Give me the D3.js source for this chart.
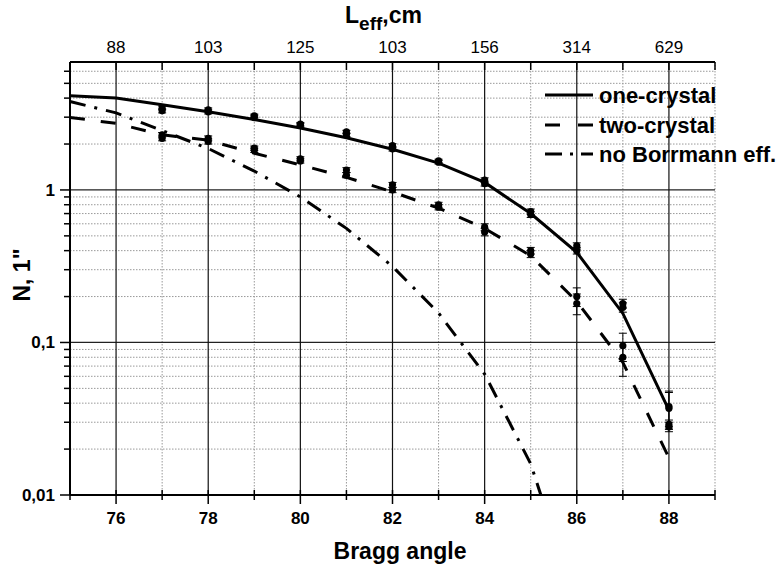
<!DOCTYPE html>
<html>
<head>
<meta charset="utf-8">
<script src="https://cdn.jsdelivr.net/npm/d3@7"></script>
<style>
  body { margin: 0; background: #fff; }
  text { font-family: "Liberation Sans", Arial, sans-serif; fill: #000; }
</style>
</head>
<body>
<div id="chart"></div>
<script>
// Curves (model)
const curveAngles = [75, 76, 77, 78, 79, 80, 81, 82, 83, 84, 85, 86, 87, 88];
const oneCrystalCurve = [4.15, 4.0, 3.62, 3.26, 2.9, 2.55, 2.2, 1.85, 1.5, 1.12, 0.7, 0.39, 0.155, 0.036];
const twoCrystalCurve = [2.99, 2.73, 2.3, 2.12, 1.74, 1.46, 1.21, 0.97, 0.76, 0.56, 0.37, 0.186, 0.074, 0.0175];
const noBorrmannAngles = [75, 76, 77, 78, 79, 80, 81, 82, 83, 84, 85, 85.22];
const noBorrmannCurve = [3.8, 3.2, 2.45, 1.87, 1.33, 0.9, 0.56, 0.315, 0.156, 0.062, 0.016, 0.01];

// Measured points (two runs per angle) and error half-widths
const measAngles = [77, 78, 79, 80, 81, 82, 83, 84, 85, 86, 87, 88];
const oneCrystalA = [3.3, 3.25, 2.98, 2.65, 2.3, 1.86, 1.52, 1.1, 0.69, 0.4, 0.17, 0.037];
const oneCrystalB = [3.45, 3.35, 3.06, 2.7, 2.4, 1.95, 1.55, 1.16, 0.72, 0.43, 0.18, 0.038];
const oneCrystalErr = [0.1, 0.1, 0.08, 0.07, 0.06, 0.06, 0.04, 0.04, 0.03, 0.02, 0.012, 0.01];
const twoCrystalA = [2.18, 2.08, 1.82, 1.55, 1.25, 1.0, 0.77, 0.53, 0.38, 0.18, 0.08, 0.028];
const twoCrystalB = [2.3, 2.18, 1.88, 1.6, 1.35, 1.08, 0.8, 0.57, 0.4, 0.2, 0.095, 0.029];
const twoCrystalErr = [0.08, 0.08, 0.06, 0.05, 0.05, 0.04, 0.03, 0.03, 0.02, 0.028, 0.02, 0.002];

// Tick labels
const xTickValues = [76, 78, 80, 82, 84, 86, 88];
const topTickLabels = ["88", "103", "125", "103", "156", "314", "629"];
const yTickValues = [0.01, 0.1, 1];
const yTickLabels = ["0,01", "0,1", "1"];
const legendNames = ["one-crystal", "two-crystal", "no Borrmann eff."];

const width = 782, height = 574;
const margin = { top: 62, left: 70, right: 67, bottom: 79 };

const svg = d3.select("#chart").append("svg")
  .attr("width", width).attr("height", height);

const x = d3.scaleLinear().domain([75, 89]).range([margin.left, width - margin.right]);
const y = d3.scaleLog().domain([0.01, 6.9]).range([height - margin.bottom, margin.top]);

const x0 = x.range()[0], x1 = x.range()[1];
const yb = y.range()[0], yt = y.range()[1];

// minor log values inside the domain
const minorY = [];
[0.01, 0.1, 1].forEach(function(dec) {
  for (let k = 2; k <= 9; k++) {
    const v = dec * k;
    if (v < y.domain()[1]) minorY.push(v);
  }
});
const allX = d3.range(75, 90);
const minorX = allX.filter(function(v) { return v % 2 === 1 && v > 75; });

const grid = svg.append("g");
grid.selectAll(".hminor").data(minorY).enter().append("line")
  .attr("x1", x0).attr("x2", x1)
  .attr("y1", d => y(d)).attr("y2", d => y(d))
  .attr("stroke", "#999").attr("stroke-width", 1).attr("stroke-dasharray", "1.5,1.5");
grid.selectAll(".vminor").data(minorX).enter().append("line")
  .attr("x1", d => x(d)).attr("x2", d => x(d))
  .attr("y1", yt).attr("y2", yb)
  .attr("stroke", "#999").attr("stroke-width", 1).attr("stroke-dasharray", "1.5,1.5");
grid.selectAll(".hmajor").data([0.1, 1]).enter().append("line")
  .attr("x1", x0).attr("x2", x1)
  .attr("y1", d => y(d)).attr("y2", d => y(d))
  .attr("stroke", "#222").attr("stroke-width", 1.2);
grid.selectAll(".vmajor").data(xTickValues).enter().append("line")
  .attr("x1", d => x(d)).attr("x2", d => x(d))
  .attr("y1", yt).attr("y2", yb)
  .attr("stroke", "#111").attr("stroke-width", 1.2);

// axes
const axes = svg.append("g").attr("stroke", "#000");
axes.append("line").attr("x1", x0).attr("x2", x1).attr("y1", yb).attr("y2", yb).attr("stroke-width", 2);
axes.append("line").attr("x1", x0).attr("x2", x1).attr("y1", yt).attr("y2", yt).attr("stroke-width", 2);
axes.append("line").attr("x1", x0).attr("x2", x0).attr("y1", yt).attr("y2", yb).attr("stroke-width", 2);

// bottom ticks (cross the axis)
axes.selectAll(".bt").data(allX).enter().append("line")
  .attr("x1", d => x(d)).attr("x2", d => x(d))
  .attr("y1", yb - 5).attr("y2", d => yb + (d % 2 === 0 ? 9 : 5))
  .attr("stroke-width", 1.5);
// top ticks (inward)
axes.selectAll(".tt").data(allX).enter().append("line")
  .attr("x1", d => x(d)).attr("x2", d => x(d))
  .attr("y1", yt).attr("y2", yt + 8)
  .attr("stroke-width", 1.5);
// left ticks (outward)
axes.selectAll(".lt").data(yTickValues.concat(minorY)).enter().append("line")
  .attr("y1", d => y(d)).attr("y2", d => y(d))
  .attr("x1", d => x0 - (yTickValues.indexOf(d) >= 0 ? 10 : 6)).attr("x2", x0)
  .attr("stroke-width", 1.5);

// tick labels
svg.selectAll(".xl").data(xTickValues).enter().append("text")
  .attr("x", d => x(d)).attr("y", yb + 29)
  .attr("text-anchor", "middle").attr("font-size", 17).attr("font-weight", "bold")
  .text(d => d);
svg.selectAll(".tl").data(xTickValues).enter().append("text")
  .attr("x", d => x(d)).attr("y", yt - 9)
  .attr("text-anchor", "middle").attr("font-size", 17)
  .text((d, i) => topTickLabels[i]);
svg.selectAll(".yl").data(yTickValues).enter().append("text")
  .attr("x", x0 - 15).attr("y", d => y(d) + 6)
  .attr("text-anchor", "end").attr("font-size", 17).attr("font-weight", "bold")
  .text((d, i) => yTickLabels[i]);

// titles
svg.append("text")
  .attr("x", 400).attr("y", 559)
  .attr("text-anchor", "middle").attr("font-size", 23).attr("font-weight", "bold")
  .text("Bragg angle");
svg.append("text")
  .attr("transform", "translate(30,275) rotate(-90)")
  .attr("text-anchor", "middle").attr("font-size", 23).attr("font-weight", "bold")
  .text("N, 1\"");
const topTitle = svg.append("text")
  .attr("x", 345).attr("y", 23)
  .attr("font-size", 23).attr("font-weight", "bold");
topTitle.append("tspan").text("L");
topTitle.append("tspan").attr("dy", 7).attr("font-size", 19).text("eff");
topTitle.append("tspan").attr("dy", -7).text(",cm");

// curves
const line = d3.line().x(d => x(d[0])).y(d => y(d[1]));
const dashes = ["none", "15,16", "16,9,3,9"];
const curves = [
  d3.zip(curveAngles, oneCrystalCurve),
  d3.zip(curveAngles, twoCrystalCurve),
  d3.zip(noBorrmannAngles, noBorrmannCurve)
];
svg.selectAll(".curve").data(curves).enter().append("path")
  .attr("d", line)
  .attr("fill", "none").attr("stroke", "#000").attr("stroke-width", 3)
  .attr("stroke-dasharray", (d, i) => dashes[i]);

// measured points with error bars
const points = [];
measAngles.forEach(function(a, i) {
  points.push({ a: a, v: oneCrystalA[i], e: oneCrystalErr[i] });
  points.push({ a: a, v: oneCrystalB[i], e: oneCrystalErr[i] });
  points.push({ a: a, v: twoCrystalA[i], e: twoCrystalErr[i] });
  points.push({ a: a, v: twoCrystalB[i], e: twoCrystalErr[i] });
});
const pts = svg.append("g");
pts.selectAll(".eb").data(points).enter().append("path")
  .attr("d", function(d) {
    const cx = x(d.a), top = y(d.v + d.e), bot = y(Math.max(d.v - d.e, 0.0101));
    return "M" + cx + "," + top + "V" + bot +
      "M" + (cx - 4) + "," + top + "H" + (cx + 4) +
      "M" + (cx - 4) + "," + bot + "H" + (cx + 4);
  })
  .attr("stroke", "#000").attr("stroke-width", 1).attr("fill", "none");
pts.selectAll(".pt").data(points).enter().append("circle")
  .attr("cx", d => x(d.a)).attr("cy", d => y(d.v)).attr("r", 3.6)
  .attr("fill", "#000");

// legend
const legend = svg.append("g");
const rows = [95, 125, 154];
legendNames.forEach(function(name, i) {
  legend.append("line")
    .attr("x1", 545).attr("x2", 593).attr("y1", rows[i]).attr("y2", rows[i])
    .attr("stroke", "#000").attr("stroke-width", 3)
    .attr("stroke-dasharray", i === 1 ? "15,18" : (i === 2 ? "17,8,3,8" : "none"));
  legend.append("text")
    .attr("x", 599).attr("y", rows[i] + 8)
    .attr("font-size", 22).attr("font-weight", "bold")
    .text(name);
});
</script>
</body>
</html>
